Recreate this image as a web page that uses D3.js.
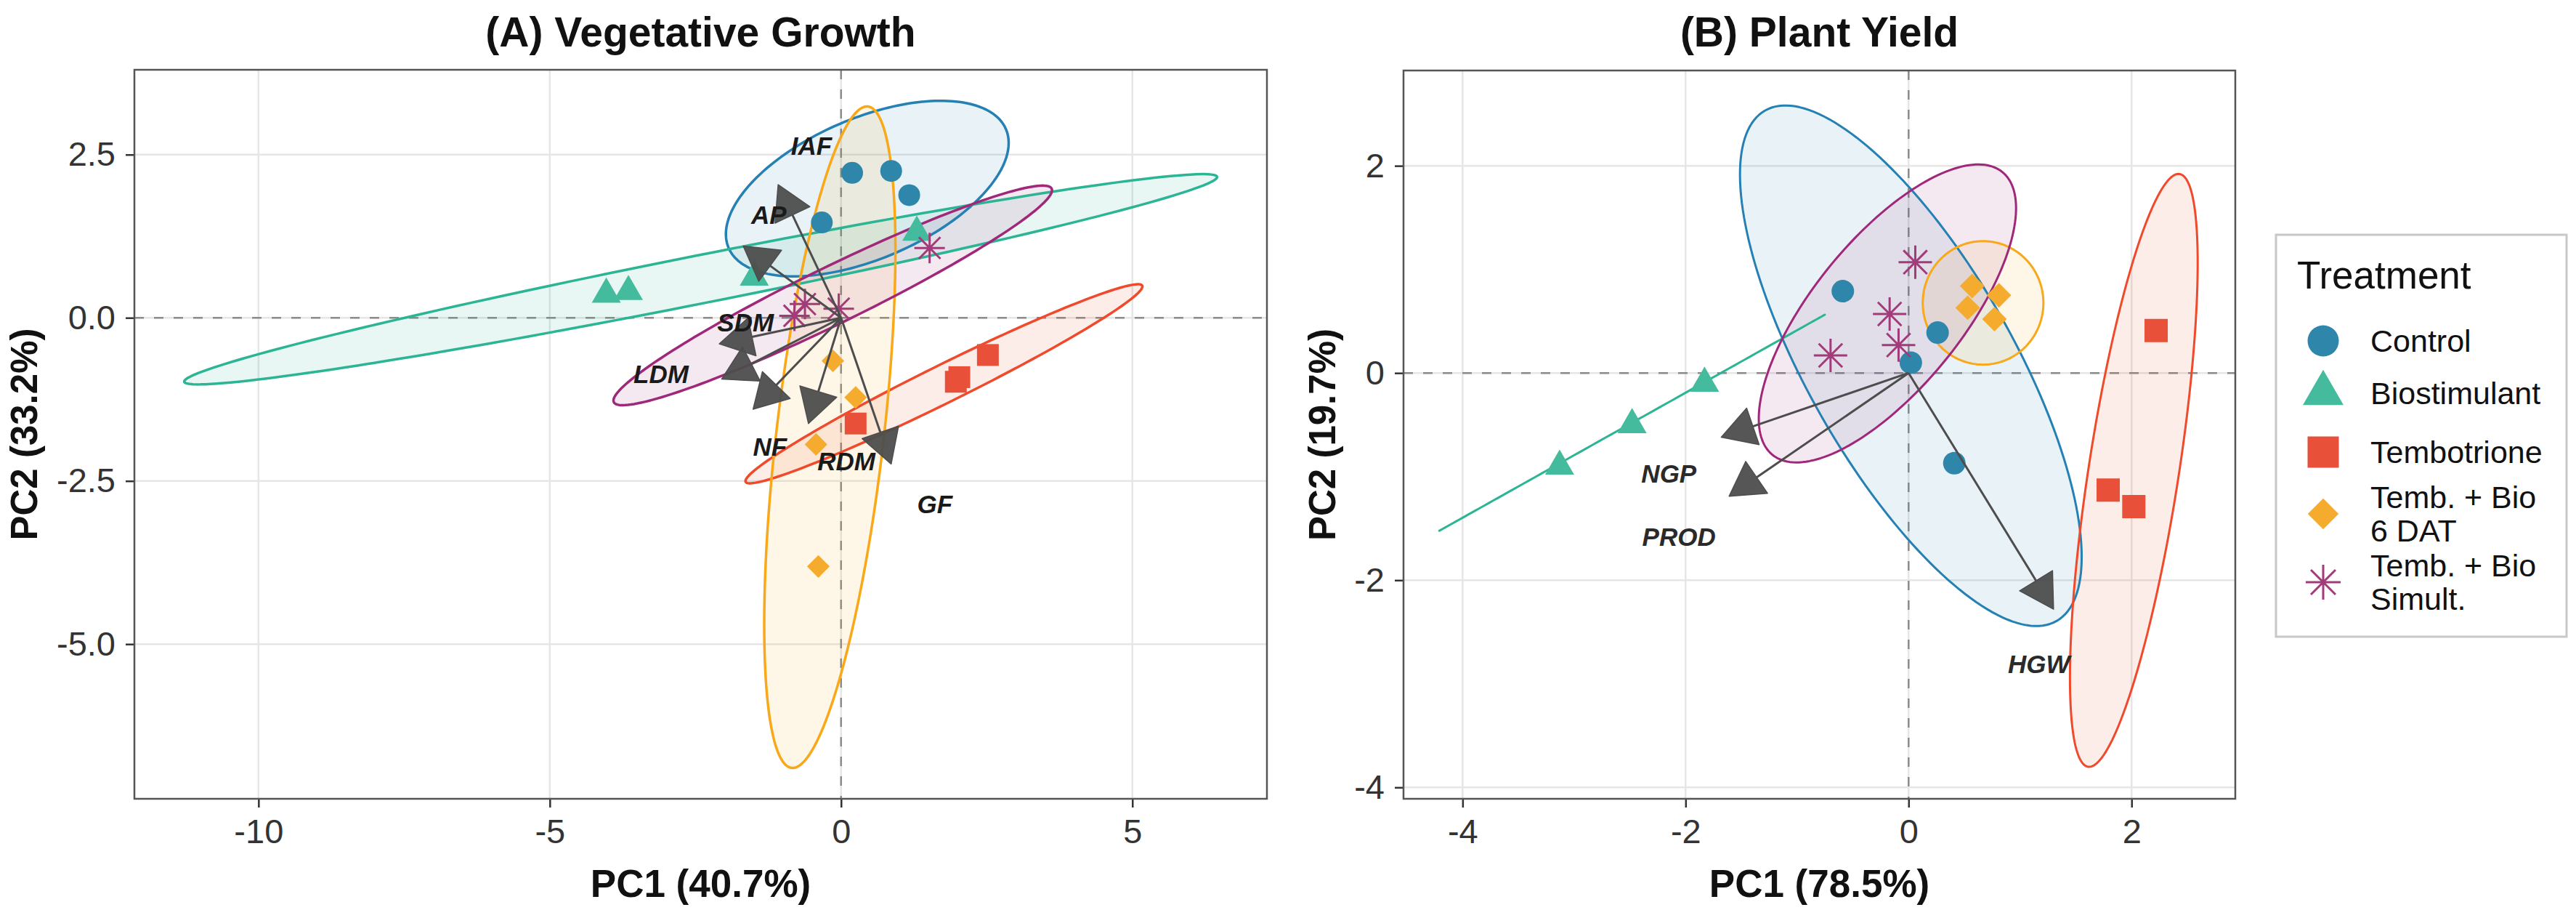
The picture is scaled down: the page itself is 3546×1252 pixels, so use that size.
<!DOCTYPE html>
<html>
<head>
<meta charset="utf-8">
<script src="https://cdn.jsdelivr.net/npm/d3@7"></script>
<style>
  body { margin: 0; background: #fff; }
  svg { display: block; }
  text { font-family: "Liberation Sans", Arial, sans-serif; }
</style>
</head>
<body>
<svg id="chart" width="3546" height="1252"></svg>
<script>
// ---- data ----
var treatments = ["Control", "Biostimulant", "Tembotrione", "Temb. + Bio 6 DAT", "Temb. + Bio Simult."];
var legendLabels = [["Control"], ["Biostimulant"], ["Tembotrione"], ["Temb. + Bio", "6 DAT"], ["Temb. + Bio", "Simult."]];

// (A) vegetative growth: individual scores
var vegGroup = [0, 0, 0, 0, 1, 1, 1, 1, 2, 2, 2, 2, 3, 3, 3, 3, 4, 4, 4, 4];
var vegPC1 = [0.19, 0.86, 1.17, -0.33, -4.03, -3.65, -1.49, 1.30, 2.52, 2.03, 1.97, 0.25, -0.14, 0.25, -0.43, -0.39, -0.80, -0.62, -0.04, 1.52];
var vegPC2 = [2.22, 2.25, 1.88, 1.46, 0.36, 0.40, 0.62, 1.31, -0.57, -0.91, -0.98, -1.62, -0.66, -1.22, -1.94, -3.81, 0.03, 0.21, 0.14, 1.07];
// (A) variable loadings + label spots
var vegVars = ["IAF", "AP", "SDM", "LDM", "NF", "RDM", "GF"];
var vegLoadPC1 = [-1.08, -1.68, -2.09, -2.05, -1.51, -0.56, 0.86];
var vegLoadPC2 = [2.04, 1.10, -0.40, -0.94, -1.40, -1.62, -2.24];
var vegLabPC1 = [-0.51, -1.24, -1.64, -3.09, -1.22, 0.09, 1.61];
var vegLabPC2 = [2.63, 1.57, -0.07, -0.86, -1.98, -2.20, -2.86];
// (A) group ellipses: centre, semi-diameter A, conjugate semi-diameter B
var vegEllipses = [
  [0.45, 1.98, 2.38, 0.91, 0.475, -0.99],
  [-2.41, 0.59, 8.865, 1.570, 0.080, -0.361],
  [1.766, -1.011, 3.404, 1.503, 0.143, -0.259],
  [-0.193, -1.83, 0.655, 5.067, 0.916, -0.095],
  [-0.143, 0.343, 3.759, 1.634, 0.196, -0.400]
];
var vegXTicks = [-10, -5, 0, 5];
var vegXTickLabels = ["-10", "-5", "0", "5"];
var vegYTicks = [2.5, 0, -2.5, -5];
var vegYTickLabels = ["2.5", "0.0", "-2.5", "-5.0"];

// (B) plant yield: individual scores
var yldGroup = [0, 0, 0, 0, 1, 1, 1, 2, 2, 2, 3, 3, 3, 3, 4, 4, 4, 4];
var yldPC1 = [-0.59, 0.26, 0.02, 0.41, -1.83, -2.48, -3.13, 2.22, 1.79, 2.02, 0.57, 0.81, 0.53, 0.77, 0.06, -0.17, -0.09, -0.70];
var yldPC2 = [0.79, 0.39, 0.10, -0.87, -0.10, -0.50, -0.90, 0.41, -1.13, -1.29, 0.84, 0.75, 0.63, 0.52, 1.07, 0.57, 0.27, 0.17];
var yldVars = ["NGP", "PROD", "HGW"];
var yldLoadPC1 = [-1.68, -1.61, 1.30];
var yldLoadPC2 = [-0.62, -1.19, -2.28];
var yldLabPC1 = [-2.15, -2.06, 1.17];
var yldLabPC2 = [-0.97, -1.58, -2.81];
var yldEllipses = [
  [0.02, 0.07, 1.307, -2.464, 0.80, 0.491],
  [-2.48, -0.48, 1.729, 1.043, 0, 0],
  [2.02, -0.94, 0.41, 2.861, 0.40, -0.066],
  [0.668, 0.677, 0.541, 0, 0, -0.596],
  [-0.19, 0.575, 1.031, 1.365, 0.518, -0.453]
];
var yldXTicks = [-4, -2, 0, 2];
var yldXTickLabels = ["-4", "-2", "0", "2"];
var yldYTicks = [2, 0, -2, -4];
var yldYTickLabels = ["2", "0", "-2", "-4"];

// ---- styling ----
var pointCol = ["#2E86AB", "#45BB9E", "#E8503A", "#F5AB2E", "#A23B7A"];
var lineCol = ["#2580B3", "#2CB594", "#EF4A2C", "#F8A818", "#A0287A"];
var arrowCol = "#4D4D4D";

var svg = d3.select("#chart");
svg.append("rect").attr("width", 3546).attr("height", 1252).attr("fill", "#fff");

function asterisk(r) {
  var p = d3.path(), d = r * Math.SQRT1_2;
  p.moveTo(-r, 0); p.lineTo(r, 0);
  p.moveTo(0, -r); p.lineTo(0, r);
  p.moveTo(-d, -d); p.lineTo(d, d);
  p.moveTo(-d, d); p.lineTo(d, -d);
  return p.toString();
}

// draw one treatment glyph into selection g at (cx, cy)
function glyph(g, k, cx, cy, sz) {
  var t = "translate(" + cx + "," + cy + ")";
  if (k === 0) {
    g.append("path").attr("d", d3.symbol(d3.symbolCircle, Math.PI * sz.circle * sz.circle / 4)())
      .attr("transform", t).attr("fill", pointCol[0]);
  } else if (k === 1) {
    g.append("path").attr("d", d3.symbol(d3.symbolTriangle, sz.tri * sz.tri * Math.sqrt(3) / 4)())
      .attr("transform", t).attr("fill", pointCol[1]);
  } else if (k === 2) {
    g.append("path").attr("d", d3.symbol(d3.symbolSquare, sz.square * sz.square)())
      .attr("transform", t).attr("fill", pointCol[2]);
  } else if (k === 3) {
    g.append("path").attr("d", d3.symbol(d3.symbolSquare, sz.diamond * sz.diamond)())
      .attr("transform", t + "rotate(45)").attr("fill", pointCol[3]);
  } else {
    g.append("path").attr("d", asterisk(sz.star))
      .attr("transform", t).attr("fill", "none")
      .attr("stroke", pointCol[4]).attr("stroke-width", 3);
  }
}

function ellipsePath(e, x, y) {
  var pts = d3.range(0, 181).map(function(i) {
    var t = i / 180 * 2 * Math.PI;
    return [x(e[0] + e[2] * Math.cos(t) + e[4] * Math.sin(t)),
            y(e[1] + e[3] * Math.cos(t) + e[5] * Math.sin(t))];
  });
  return d3.line().curve(d3.curveLinearClosed)(pts);
}

function panel(cfg) {
  var x = d3.scaleLinear().domain(cfg.xDom).range([cfg.left, cfg.right]);
  var y = d3.scaleLinear().domain(cfg.yDom).range([cfg.bottom, cfg.top]);
  var g = svg.append("g");
  var clipId = "clip" + cfg.id;
  g.append("clipPath").attr("id", clipId).append("rect")
    .attr("x", cfg.left).attr("y", cfg.top)
    .attr("width", cfg.right - cfg.left).attr("height", cfg.bottom - cfg.top);

  // grid
  g.selectAll(".gx").data(cfg.xTicks).enter().append("line")
    .attr("x1", function(d) { return x(d); }).attr("x2", function(d) { return x(d); })
    .attr("y1", cfg.top).attr("y2", cfg.bottom)
    .attr("stroke", "#E6E6E6").attr("stroke-width", 2.5);
  g.selectAll(".gy").data(cfg.yTicks).enter().append("line")
    .attr("y1", function(d) { return y(d); }).attr("y2", function(d) { return y(d); })
    .attr("x1", cfg.left).attr("x2", cfg.right)
    .attr("stroke", "#E6E6E6").attr("stroke-width", 2.5);

  // zero reference lines
  g.append("line").attr("x1", x(0)).attr("x2", x(0)).attr("y1", cfg.top).attr("y2", cfg.bottom)
    .attr("stroke", "#8C8C8C").attr("stroke-width", 2.5).attr("stroke-dasharray", "13,14");
  g.append("line").attr("y1", y(0)).attr("y2", y(0)).attr("x1", cfg.left).attr("x2", cfg.right)
    .attr("stroke", "#8C8C8C").attr("stroke-width", 2.5).attr("stroke-dasharray", "13,14");

  var plot = g.append("g").attr("clip-path", "url(#" + clipId + ")");

  // ellipses
  plot.selectAll(".ef").data(cfg.ellipses).enter().append("path")
    .attr("d", function(e) { return ellipsePath(e, x, y); })
    .attr("fill", function(e, i) { return lineCol[i]; }).attr("fill-opacity", 0.1)
    .attr("stroke", "none");
  plot.selectAll(".eo").data(cfg.ellipses).enter().append("path")
    .attr("d", function(e) { return ellipsePath(e, x, y); })
    .attr("fill", "none")
    .attr("stroke", function(e, i) { return lineCol[i]; })
    .attr("stroke-width", cfg.ellW).attr("stroke-linejoin", "round");

  // points
  var pts = plot.append("g");
  cfg.group.forEach(function(k, i) {
    glyph(pts, k, x(cfg.pc1[i]), y(cfg.pc2[i]), cfg.sz);
  });

  // loading arrows
  var ox = x(0), oy = y(0), L = 46, w = L * Math.tan(Math.PI / 6);
  var arr = plot.append("g");
  cfg.vars.forEach(function(v, i) {
    var tx = x(cfg.lx[i]), ty = y(cfg.ly[i]);
    var dx = tx - ox, dy = ty - oy, len = Math.sqrt(dx * dx + dy * dy);
    var ux = dx / len, uy = dy / len;
    var bx = tx - ux * L, by = ty - uy * L;
    arr.append("line").attr("x1", ox).attr("y1", oy).attr("x2", bx).attr("y2", by)
      .attr("stroke", arrowCol).attr("stroke-width", 3);
    arr.append("polygon")
      .attr("points", [[tx, ty], [bx - uy * w, by + ux * w], [bx + uy * w, by - ux * w]].join(" "))
      .attr("fill", arrowCol).attr("fill-opacity", 0.95)
      .attr("stroke", arrowCol).attr("stroke-width", 1.5).attr("stroke-linejoin", "round");
  });
  cfg.vars.forEach(function(v, i) {
    plot.append("text").attr("x", x(cfg.tx[i])).attr("y", y(cfg.ty[i])).attr("dy", "0.35em")
      .attr("text-anchor", "middle").attr("font-size", 35).attr("font-weight", "bold")
      .attr("font-style", "italic").attr("fill", cfg.labCol).text(v);
  });

  // axes
  var xa = g.append("g").attr("transform", "translate(0," + cfg.bottom + ")")
    .call(d3.axisBottom(x).tickValues(cfg.xTicks)
      .tickFormat(function(d, i) { return cfg.xTickLabels[i]; })
      .tickSize(12).tickPadding(16));
  var ya = g.append("g").attr("transform", "translate(" + cfg.left + ",0)")
    .call(d3.axisLeft(y).tickValues(cfg.yTicks)
      .tickFormat(function(d, i) { return cfg.yTickLabels[i]; })
      .tickSize(12).tickPadding(14));
  [xa, ya].forEach(function(a) {
    a.select(".domain").remove();
    a.selectAll(".tick line").attr("stroke", "#333").attr("stroke-width", 2.5);
    a.selectAll(".tick text").attr("font-size", 47).attr("fill", "#333")
      .attr("font-family", "Liberation Sans, Arial, sans-serif");
  });

  // frame
  g.append("rect").attr("x", cfg.left).attr("y", cfg.top)
    .attr("width", cfg.right - cfg.left).attr("height", cfg.bottom - cfg.top)
    .attr("fill", "none").attr("stroke", "#555").attr("stroke-width", 2.5);

  // titles
  var cx = (cfg.left + cfg.right) / 2, cy = (cfg.top + cfg.bottom) / 2;
  g.append("text").attr("x", cx).attr("y", 64).attr("text-anchor", "middle")
    .attr("font-size", 57).attr("font-weight", "bold").attr("fill", "#111").text(cfg.title);
  g.append("text").attr("x", cx).attr("y", 1234).attr("text-anchor", "middle")
    .attr("font-size", 53).attr("font-weight", "bold").attr("fill", "#111").text(cfg.xTitle);
  g.append("text").attr("transform", "translate(" + cfg.yTitleX + "," + cy + ")rotate(-90)")
    .attr("text-anchor", "middle").attr("font-size", 51).attr("font-weight", "bold")
    .attr("fill", "#111").text(cfg.yTitle);
}

panel({
  id: "A", left: 185, right: 1744, top: 96, bottom: 1099,
  xDom: [-12.13, 7.31], yDom: [-7.37, 3.80],
  xTicks: vegXTicks, xTickLabels: vegXTickLabels, yTicks: vegYTicks, yTickLabels: vegYTickLabels,
  group: vegGroup, pc1: vegPC1, pc2: vegPC2,
  vars: vegVars, lx: vegLoadPC1, ly: vegLoadPC2, tx: vegLabPC1, ty: vegLabPC2,
  ellipses: vegEllipses, ellW: 3.5, labCol: "#1a1a1a",
  sz: { circle: 30, tri: 40, square: 30, diamond: 22, star: 21 },
  title: "(A) Vegetative Growth", xTitle: "PC1 (40.7%)", yTitle: "PC2 (33.2%)", yTitleX: 51
});

panel({
  id: "B", left: 1932, right: 3077, top: 97, bottom: 1099,
  xDom: [-4.53, 2.93], yDom: [-4.11, 2.92],
  xTicks: yldXTicks, xTickLabels: yldXTickLabels, yTicks: yldYTicks, yTickLabels: yldYTickLabels,
  group: yldGroup, pc1: yldPC1, pc2: yldPC2,
  vars: yldVars, lx: yldLoadPC1, ly: yldLoadPC2, tx: yldLabPC1, ty: yldLabPC2,
  ellipses: yldEllipses, ellW: 3, labCol: "#2a2a2a",
  sz: { circle: 31, tri: 40, square: 32, diamond: 24, star: 23 },
  title: "(B) Plant Yield", xTitle: "PC1 (78.5%)", yTitle: "PC2 (19.7%)", yTitleX: 1838
});

// ---- legend ----
var leg = svg.append("g");
leg.append("rect").attr("x", 3133).attr("y", 323).attr("width", 400).attr("height", 553)
  .attr("fill", "#fff").attr("stroke", "#C8C8C8").attr("stroke-width", 3);
leg.append("text").attr("x", 3162).attr("y", 397).attr("font-size", 53).attr("fill", "#111").text("Treatment");
var legY = [469, 541, 622, 707, 801];
var legSz = { circle: 43, tri: 56, square: 43, diamond: 30, star: 24 };
treatments.forEach(function(t, i) {
  glyph(leg, i, 3198, legY[i], legSz);
  var lines = legendLabels[i];
  lines.forEach(function(s, j) {
    leg.append("text").attr("x", 3263)
      .attr("y", legY[i] + (j - (lines.length - 1) / 2) * 46)
      .attr("dy", "0.35em").attr("font-size", 43).attr("fill", "#111").text(s);
  });
});
</script>
</body>
</html>
